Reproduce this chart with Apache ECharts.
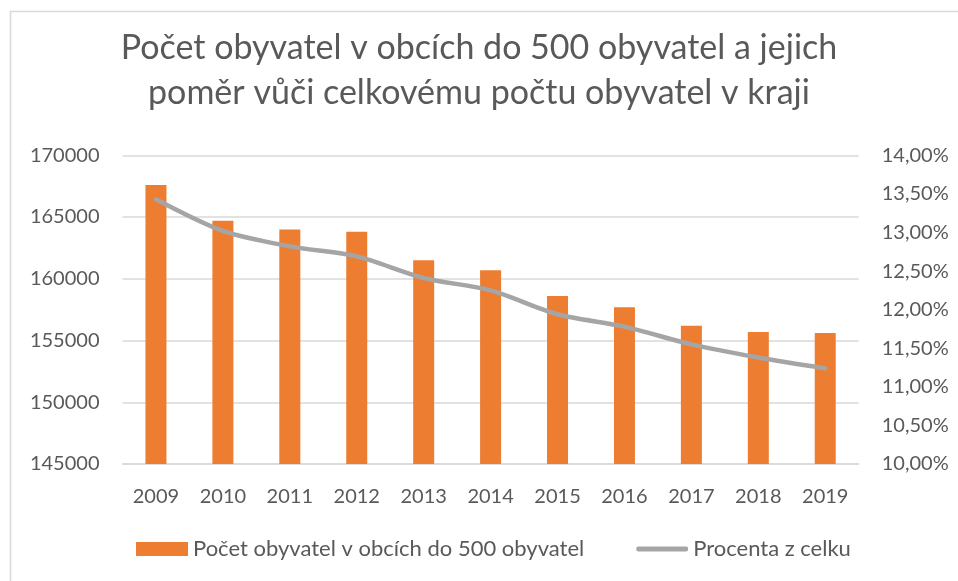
<!DOCTYPE html>
<html>
<head>
<meta charset="utf-8">
<script src="https://cdn.jsdelivr.net/npm/echarts@6/dist/echarts.min.js"></script>
<style>
html, body { margin: 0; padding: 0; background: #fff; }
#chart { width: 958px; height: 581px; }
</style>
</head>
<body>
<div id="chart"></div>
<script>
const years = ['2009', '2010', '2011', '2012', '2013', '2014', '2015', '2016', '2017', '2018', '2019']
const obyvatele = [167600, 164700, 164000, 163800, 161500, 160700, 158600, 157700, 156200, 155700, 155600]
const procenta = [13.43, 13.02, 12.82, 12.69, 12.41, 12.25, 11.94, 11.78, 11.55, 11.38, 11.24]

const fontFamily = 'Lato, "Liberation Sans", sans-serif'
const textColor = '#595959'
const gridColor = '#d9d9d9'

const chart = echarts.init(document.getElementById('chart'))

chart.setOption({
    animation: false,
    textStyle: { fontFamily: fontFamily },
    graphic: [{
        type: 'rect',
        shape: { x: 10.5, y: 11.5, width: 1200, height: 1200 },
        style: { fill: 'none', stroke: gridColor, lineWidth: 1.5 }
    }],
    title: {
        text: 'Počet obyvatel v obcích do 500 obyvatel a jejich\npoměr vůči celkovému počtu obyvatel v kraji',
        left: 'center',
        top: 21,
        textStyle: {
            fontFamily: fontFamily,
            fontSize: 34,
            fontWeight: 'normal',
            color: textColor,
            lineHeight: 45
        }
    },
    legend: {
        left: 136,
        top: 538,
        padding: 0,
        itemWidth: 52,
        itemHeight: 14,
        itemGap: 52,
        textStyle: { fontFamily: fontFamily, fontSize: 22, color: textColor },
        data: [
            { name: 'Počet obyvatel v obcích do 500 obyvatel', icon: 'rect' },
            {
                name: 'Procenta z celku',
                icon: 'path://M2,0 L52,0 Q54,0 54,2.5 Q54,5 52,5 L2,5 Q0,5 0,2.5 Q0,0 2,0 Z'
            }
        ]
    },
    grid: {
        left: 122.5,
        right: 99.3,
        top: 155.3,
        bottom: 117
    },
    xAxis: {
        type: 'category',
        data: years,
        axisTick: { show: false },
        axisLine: { lineStyle: { color: gridColor, width: 1.5 } },
        axisLabel: { color: textColor, fontSize: 20, margin: 23 }
    },
    yAxis: [{
        type: 'value',
        min: 145000,
        max: 170000,
        interval: 5000,
        axisLine: { show: false },
        axisTick: { show: false },
        axisLabel: {
            color: textColor,
            fontSize: 20,
            margin: 23,
            formatter: function (v) {
                return String(v)
            }
        },
        splitLine: { lineStyle: { color: gridColor, width: 1.5 } }
    }, {
        type: 'value',
        min: 10,
        max: 14,
        interval: 0.5,
        axisLine: { show: false },
        axisTick: { show: false },
        splitLine: { show: false },
        axisLabel: {
            color: textColor,
            fontSize: 20,
            margin: 23,
            formatter: function (v) {
                return v.toFixed(2).replace('.', ',') + '%'
            }
        }
    }],
    series: [{
        name: 'Počet obyvatel v obcích do 500 obyvatel',
        type: 'bar',
        data: obyvatele,
        barWidth: 21,
        itemStyle: { color: '#ed7d31' }
    }, {
        name: 'Procenta z celku',
        type: 'line',
        yAxisIndex: 1,
        data: procenta,
        smooth: 0.3,
        symbol: 'none',
        lineStyle: { color: '#a5a5a5', width: 4.5, cap: 'round' },
        itemStyle: { color: '#a5a5a5' }
    }]
})
</script>
</body>
</html>
